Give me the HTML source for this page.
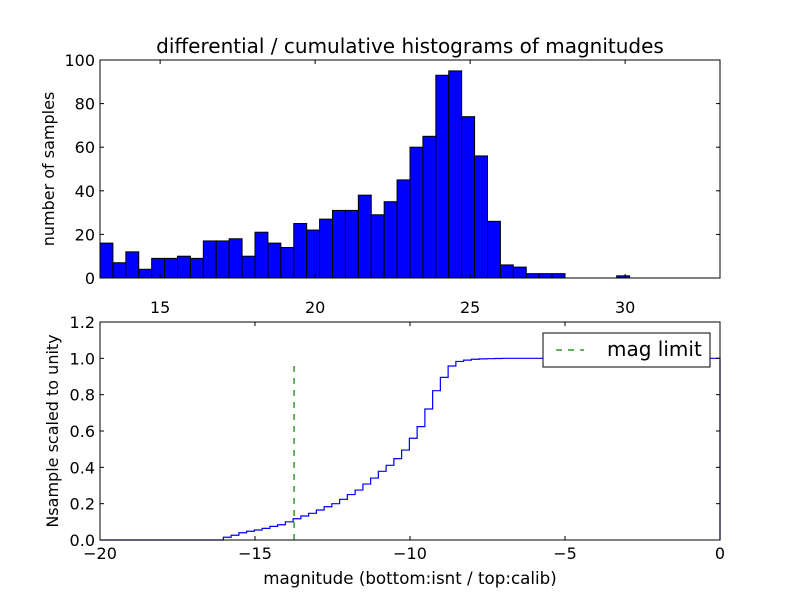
<!DOCTYPE html>
<html><head><meta charset="utf-8"><style>
body{margin:0;background:#fff;}
svg{display:block;font-family:"DejaVu Sans","Liberation Sans",sans-serif;}
</style></head><body>
<svg id="c" width="800" height="600"></svg>
<script>
// top histogram data
const histStart = 13.06;
const histBinWidth = 20/48;
const histCounts = [16,7,12,4,9,9,10,9,17,17,18,10,21,16,14,25,22,27,31,31,38,29,35,45,60,65,93,95,74,56,26,6,5,2,2,2,0,0,0,0,1,0,0,0,0,0,0,0];
const topXTicks = [15,20,25,30];
const topYTicks = [0,20,40,60,80,100];
// bottom cumulative data
const cumStart = -16.02;
const cumStep = 0.25;
const cumValues = [0.015,0.026,0.04,0.048,0.055,0.064,0.075,0.084,0.10,0.117,0.132,0.147,0.165,0.183,0.2,0.224,0.25,0.275,0.308,0.341,0.378,0.411,0.448,0.495,0.56,0.624,0.721,0.822,0.895,0.958,0.983,0.99,0.995,0.997,0.998,0.999,1.0];
const magLimit = -13.74;
const magLimitTop = 0.965;
const botXTicks = [-20,-15,-10,-5,0];
const botYTicks = [0.0,0.2,0.4,0.6,0.8,1.0,1.2];

const NS="http://www.w3.org/2000/svg";
const svg=document.getElementById('c');
function mk(t,a,p){const e=document.createElementNS(NS,t);for(const k in a)e.setAttribute(k,a[k]);(p||svg).appendChild(e);return e;}
const L=100,R=720;
const tx=v=>L+(v-13.06)*31;
const ty=v=>278-v*(218/100);
const bx=v=>L+(v+20)*31;
const by=v=>540-v*(218/1.2);

const gb=mk('g',{});


histCounts.forEach((c,i)=>{
  if(c<=0)return;
  const x0=tx(histStart+i*histBinWidth), x1=tx(histStart+(i+1)*histBinWidth);
  const r=mk('rect',{x:x0,y:ty(c),width:x1-x0,height:ty(0)-ty(c),fill:'#0000ff',stroke:'#000','stroke-width':1},gb);
  
  
});
const f1=mk('rect',{x:L,y:60,width:R-L,height:218,fill:'none',stroke:'#000','stroke-width':1});


topXTicks.forEach(v=>{const x=tx(v);
  mk('line',{x1:x,x2:x,y1:278,y2:274,stroke:'#000'});mk('line',{x1:x,x2:x,y1:60,y2:64,stroke:'#000'});
  const t=mk('text',{x:x,y:313,'text-anchor':'middle','font-size':16});t.textContent=v;
  });
topYTicks.forEach(v=>{const y=ty(v);
  mk('line',{x1:L,x2:L+4,y1:y,y2:y,stroke:'#000'});mk('line',{x1:R,x2:R-4,y1:y,y2:y,stroke:'#000'});
  const t=mk('text',{x:L-5,y:y+6,'text-anchor':'end','font-size':16});t.textContent=v;
  });
let t=mk('text',{x:410,y:53,'text-anchor':'middle','font-size':20});t.textContent='differential / cumulative histograms of magnitudes';

t=mk('text',{x:54,y:169,'text-anchor':'middle','font-size':16,transform:'rotate(-90 54 169)'});t.textContent='number of samples';


let d='M'+L+','+by(0)+' L'+bx(cumStart)+','+by(0);
cumValues.forEach((v,i)=>{const x0=bx(cumStart+i*cumStep);const x1=bx(cumStart+(i+1)*cumStep);
  d+=' L'+x0+','+by(v)+' L'+x1+','+by(v);});
d+=' L'+R+','+by(cumValues[cumValues.length-1])+' L'+R+','+by(0);
const p=mk('path',{d:d,fill:'none',stroke:'#0000ff','stroke-width':1.2});

const ml=mk('line',{x1:bx(magLimit),x2:bx(magLimit),y1:by(0),y2:by(magLimitTop),stroke:'#008000','stroke-width':1.2,'stroke-dasharray':'6,6'});

const f2=mk('rect',{x:L,y:322,width:R-L,height:218,fill:'none',stroke:'#000','stroke-width':1});

botXTicks.forEach(v=>{const x=bx(v);
  mk('line',{x1:x,x2:x,y1:540,y2:536,stroke:'#000'});mk('line',{x1:x,x2:x,y1:322,y2:326,stroke:'#000'});
  const t=mk('text',{x:x,y:559,'text-anchor':'middle','font-size':16});t.textContent=v===0?'0':'\u2212'+Math.abs(v);
  });
botYTicks.forEach(v=>{const y=by(v);
  mk('line',{x1:L,x2:L+4,y1:y,y2:y,stroke:'#000'});mk('line',{x1:R,x2:R-4,y1:y,y2:y,stroke:'#000'});
  const t=mk('text',{x:L-5,y:y+6,'text-anchor':'end','font-size':16});t.textContent=v.toFixed(1);
  });
t=mk('text',{x:410,y:584,'text-anchor':'middle','font-size':16.7});t.textContent='magnitude (bottom:isnt / top:calib)';

t=mk('text',{x:58,y:431,'text-anchor':'middle','font-size':16,transform:'rotate(-90 58 431)'});t.textContent='Nsample scaled to unity';

const lg=mk('g',{});

mk('rect',{x:543,y:333,width:167,height:34,fill:'#fff',stroke:'#000'},lg);
mk('line',{x1:556,x2:584,y1:350,y2:350,stroke:'#008000','stroke-width':1.2,'stroke-dasharray':'6,6'},lg);
t=mk('text',{x:607,y:356,'font-size':20},lg);t.textContent='mag limit';

</script>
</body></html>
